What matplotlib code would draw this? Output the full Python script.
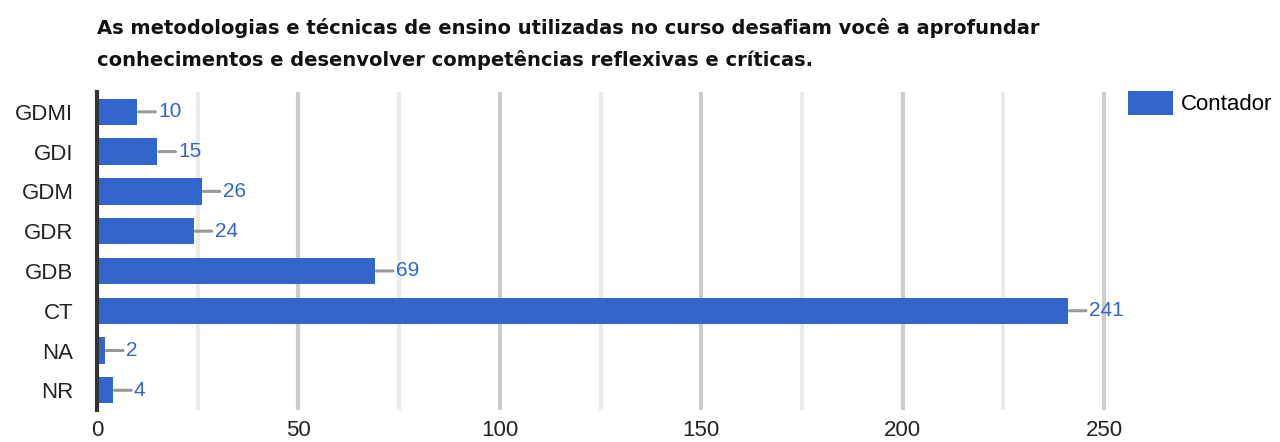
import matplotlib.pyplot as plt
from matplotlib.ticker import MultipleLocator

# respostas por categoria
categorias = ['GDMI', 'GDI', 'GDM', 'GDR', 'GDB', 'CT', 'NA', 'NR']
contador = [10, 15, 26, 24, 69, 241, 2, 4]

titulo = ('As metodologias e técnicas de ensino utilizadas no curso desafiam você a aprofundar\n'
          'conhecimentos e desenvolver competências reflexivas e críticas.')

azul = '#3366cc'

fig = plt.figure(figsize=(12.8, 4.42), dpi=100)
ax = fig.add_axes([0.0758, 0.072, 0.79, 0.72])

y = list(range(len(categorias)))
ax.barh(y, contador, height=0.66, color=azul, label='Contador', zorder=3)

# rótulos com linha guia cinza
for yi, v in zip(y, contador):
    ax.annotate(str(v), xy=(v, yi), xytext=(15, 0), textcoords='offset points',
                ha='left', va='center', color=azul, fontsize=15, family='Liberation Sans',
                arrowprops=dict(arrowstyle='-', color='#999999', lw=2.2,
                                shrinkA=0, shrinkB=1))

ax.set_ylim(len(categorias) - 0.5, -0.5)
ax.set_xlim(0, 251)
ax.xaxis.set_major_locator(MultipleLocator(50))
ax.xaxis.set_minor_locator(MultipleLocator(25))
ax.grid(axis='x', which='major', color='#cccccc', lw=3, zorder=0)
ax.grid(axis='x', which='minor', color='#ebebeb', lw=3, zorder=0)
ax.set_yticks(y)
ax.set_yticklabels(categorias)
ax.tick_params(which='both', length=0, labelsize=16, colors='#222222')
ax.tick_params(axis='y', pad=17)
ax.tick_params(axis='x', pad=7)
for lab in ax.get_xticklabels() + ax.get_yticklabels():
    lab.set_family('Liberation Sans')

for s in ['top', 'right', 'bottom']:
    ax.spines[s].set_visible(False)
ax.spines['left'].set_color('#333333')
ax.spines['left'].set_linewidth(3)
ax.spines['left'].set_zorder(4)

fig.text(0.0758, 0.96, titulo, ha='left', va='top', fontsize=14,
         fontweight='bold', family='DejaVu Sans', color='#111111', linespacing=1.75)

fig.legend(loc='upper left', bbox_to_anchor=(0.881, 0.795), frameon=False,
           prop={'family': 'Liberation Sans', 'size': 16}, handlelength=2.05,
           handleheight=1.3, handletextpad=0.35, borderaxespad=0, borderpad=0)

fig.savefig('out.png', dpi=100)
